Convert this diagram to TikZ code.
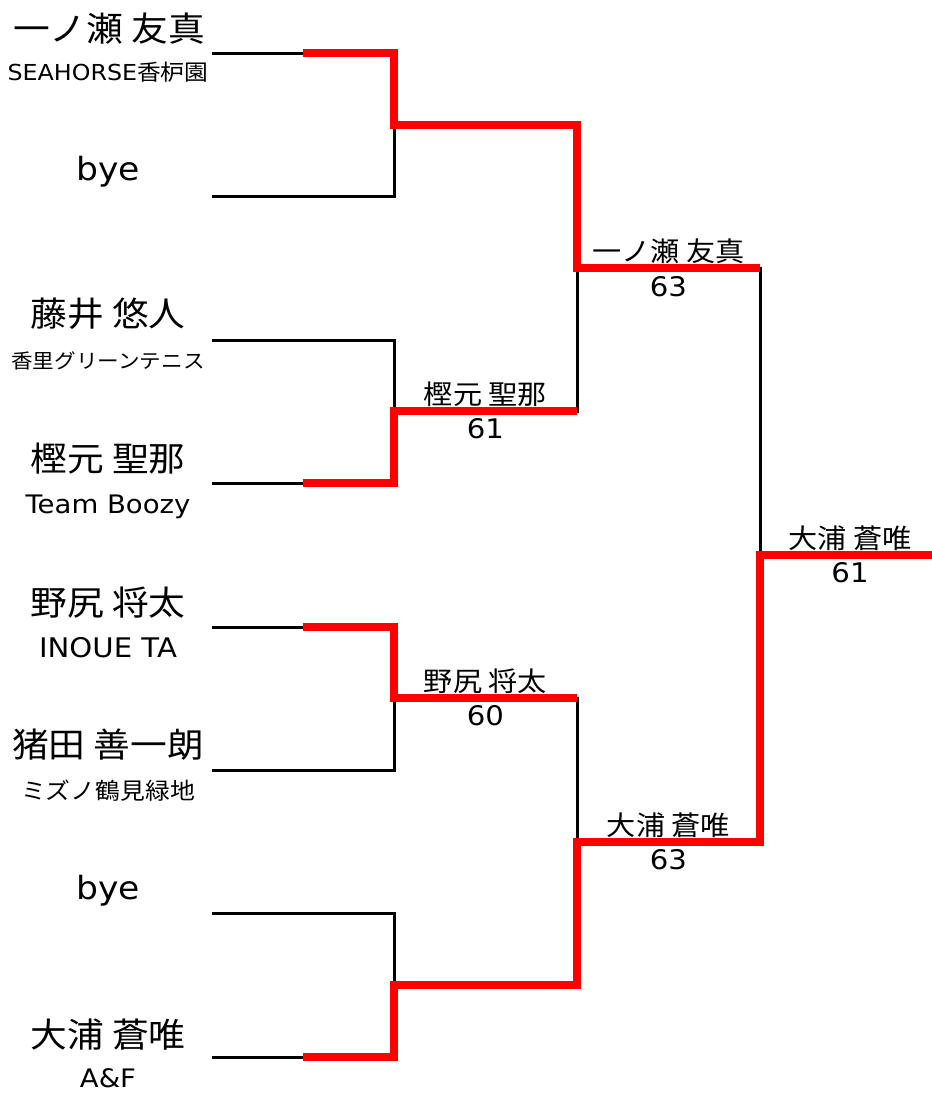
\documentclass[tikz,border=0pt]{standalone}
\usepackage{fontspec}
\setmainfont[FakeStretch=1.08]{DejaVu Sans}
\newfontfamily\jp[FakeStretch=1.08]{Noto Sans CJK JP}
\tikzset{
  bk/.style={line width=3pt, black, line join=miter},
  win/.style={line width=7.5pt, red, line join=miter},
  lbl/.style={inner sep=0pt, anchor=center},
  jpf/.style={lbl, font={\jp\fontsize{#1}{#1}\selectfont}},
  laf/.style={lbl, font={\fontsize{#1}{#1}\selectfont}},
}
\begin{document}
\begin{tikzpicture}[x=1pt,y=-1pt]
\useasboundingbox (0,0) rectangle (932,1093);
% round 1 slots
\foreach \i/\y in {1/53,2/196,3/340,4/483,5/627,6/770,7/913,8/1057}{
  \coordinate (a\i) at (212,\y);
  \coordinate (b\i) at (303,\y);
  \coordinate (c\i) at (394,\y);
}
% round 2
\coordinate (d1) at (394,125);   \coordinate (e1) at (577,125);
\coordinate (d2) at (394,411);   \coordinate (e2) at (577,411);
\coordinate (d3) at (394,698);   \coordinate (e3) at (577,698);
\coordinate (d4) at (394,985);   \coordinate (e4) at (577,985);
% round 3
\coordinate (f1) at (577,268);   \coordinate (g1) at (760,268);
\coordinate (f2) at (577,842);   \coordinate (g2) at (760,842);
% final
\coordinate (h) at (760,555);    \coordinate (k) at (932,555);

% black bracket
\draw[bk] (a1) -- (c1) -- (c2) -- (a2);
\draw[bk] (a3) -- (c3) -- (c4) -- (a4);
\draw[bk] (a5) -- (c5) -- (c6) -- (a6);
\draw[bk] (a7) -- (c7) -- (c8) -- (a8);
\draw[bk] (d1) -- (e1) -- (e2) -- (d2);
\draw[bk] (d3) -- (e3) -- (e4) -- (d4);
\draw[bk] (f1) -- (g1) -- (g2) -- (f2);
\draw[bk] (h) -- (k);

% winners' paths
\draw[win] (b1) -- (c1) -- (d1) -- (e1) -- (f1) -- (g1);
\draw[win] (b4) -- (c4) -- (d2) -- (e2);
\draw[win] (b5) -- (c5) -- (d3) -- (e3);
\draw[win] (b8) -- (c8) -- (d4) -- (e4) -- (f2) -- (g2) -- (h) -- (k);

% players
\node[jpf=34] (n1) at (109,28.5) {一ノ瀬 友真};
\node[laf=22] (t1) at (108,72) {SEAHORSE{\jp 香枦園}};
\node[laf=32] (n2) at (108,172) {bye};
\node[jpf=34] (n3) at (108,314) {藤井 悠人};
\node[jpf=20] (t3) at (108,361) {香里グリーンテニス};
\node[jpf=34] (n4) at (108,458.5) {樫元 聖那};
\node[laf=25.5] (t4) at (108,507) {Team Boozy};
\node[jpf=34] (n5) at (108,602.5) {野尻 将太};
\node[laf=27] (t5) at (108,648) {INOUE TA};
\node[jpf=34] (n6) at (108,745) {猪田 善一朗};
\node[jpf=23] (t6) at (108,791) {ミズノ鶴見緑地};
\node[laf=32] (n7) at (108,891) {bye};
\node[jpf=34] (n8) at (108,1034.5) {大浦 蒼唯};
\node[laf=25.5] (t8) at (108,1078) {A\&F};

% results
\node[jpf=27] (w2) at (485.5,394) {樫元 聖那};
\node[laf=27] (s2) at (485.5,429) {61};
\node[jpf=27] (w3) at (485.5,681) {野尻 将太};
\node[laf=27] (s3) at (485.5,716) {60};
\node[jpf=27] (w5) at (668.5,251) {一ノ瀬 友真};
\node[laf=27] (s5) at (668.5,287) {63};
\node[jpf=27] (w6) at (668.5,825) {大浦 蒼唯};
\node[laf=27] (s6) at (668.5,860) {63};
\node[jpf=27] (w7) at (850,538) {大浦 蒼唯};
\node[laf=27] (s7) at (850,573) {61};
\end{tikzpicture}
\end{document}
